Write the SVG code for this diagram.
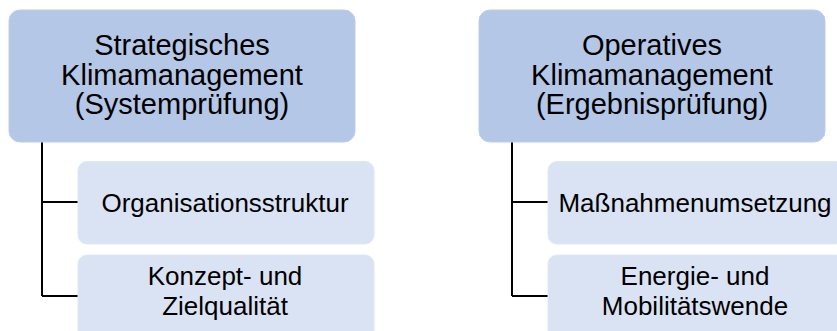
<svg xmlns="http://www.w3.org/2000/svg" width="837" height="331" viewBox="0 0 837 331">
  <style>
    .top { fill: #B4C7E7; stroke: #BCCDEA; stroke-width: 1; }
    .child { fill: #DAE3F3; stroke: #E0E7F5; stroke-width: 1; }
    .t { font-family: "Liberation Sans", Arial, sans-serif; fill: #000; text-anchor: middle; }
    .t1 { font-size: 29px; }
    .t2 { font-size: 26px; }
    .conn { fill: none; stroke: #000; stroke-width: 2; }
  </style>
  <rect width="837" height="331" fill="#FFFFFF"/>
  <g id="connectors">
    <path class="conn" d="M42 142 V296 M42 202 H78 M42 296 H78"/>
    <path class="conn" d="M512 142 V296 M512 202 H548 M512 296 H548"/>
  </g>
  <g id="node-strategisch">
    <rect class="top" x="9" y="10" width="346" height="132" rx="11"/>
    <text class="t t1" x="182" y="55">Strategisches</text>
    <text class="t t1" x="182" y="84.5">Klimamanagement</text>
    <text class="t t1" x="182" y="113.5">(Systemprüfung)</text>
  </g>
  <g id="node-organisation">
    <rect class="child" x="78" y="161.5" width="296" height="82.5" rx="9"/>
    <text class="t t2" x="225" y="212">Organisationsstruktur</text>
  </g>
  <g id="node-konzept">
    <rect class="child" x="78" y="255" width="296" height="86" rx="9"/>
    <text class="t t2" x="225" y="285">Konzept- und</text>
    <text class="t t2" x="225" y="315">Zielqualität</text>
  </g>
  <g id="node-operativ">
    <rect class="top" x="479" y="10" width="346" height="132" rx="11"/>
    <text class="t t1" x="652" y="55">Operatives</text>
    <text class="t t1" x="652" y="84.5">Klimamanagement</text>
    <text class="t t1" x="652" y="113.5">(Ergebnisprüfung)</text>
  </g>
  <g id="node-massnahmen">
    <rect class="child" x="548" y="161.5" width="296" height="82.5" rx="9"/>
    <text class="t t2" x="695" y="212">Maßnahmenumsetzung</text>
  </g>
  <g id="node-energie">
    <rect class="child" x="548" y="255" width="296" height="86" rx="9"/>
    <text class="t t2" x="695" y="285">Energie- und</text>
    <text class="t t2" x="695" y="315">Mobilitätswende</text>
  </g>
</svg>
